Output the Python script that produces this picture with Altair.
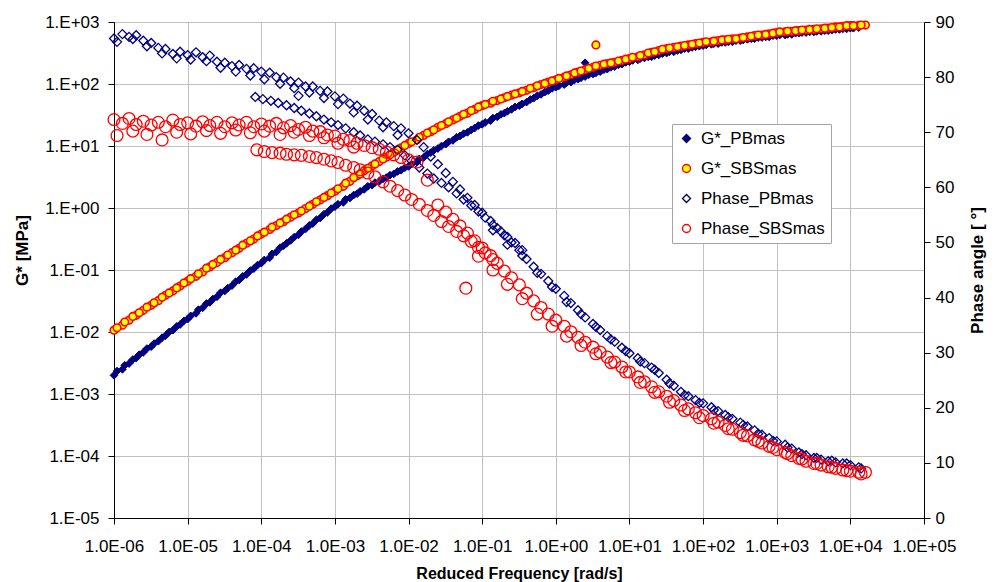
import altair as alt
import pandas as pd

SERIES = ["G*_PBmas", "G*_SBSmas", "Phase_PBmas", "Phase_SBSmas"]

X_TICKS = [1e-6, 1e-5, 1e-4, 1e-3, 1e-2, 1e-1, 1e0, 1e1, 1e2, 1e3, 1e4, 1e5]
G_TICKS = [1e-5, 1e-4, 1e-3, 1e-2, 1e-1, 1e0, 1e1, 1e2, 1e3]
PHASE_TICKS = [0, 10, 20, 30, 40, 50, 60, 70, 80, 90]

# ---------------- G*_PBmas (MPa) ----------------
pb_g_freq = [
    # first set of shifted measurements
    1.0e-6, 1.3e-6, 1.6e-6, 2.0e-6, 2.5e-6, 3.2e-6, 4.0e-6, 5.0e-6, 6.3e-6, 7.9e-6,
    1.0e-5, 1.3e-5, 1.6e-5, 2.0e-5, 2.5e-5, 3.2e-5, 4.0e-5, 5.0e-5, 6.3e-5, 7.9e-5,
    1.0e-4, 1.3e-4, 1.6e-4, 2.0e-4, 2.5e-4, 3.2e-4, 4.0e-4, 5.0e-4, 6.3e-4, 7.9e-4,
    1.0e-3, 1.3e-3, 1.6e-3, 2.0e-3, 2.5e-3, 3.2e-3, 4.0e-3, 5.0e-3, 6.3e-3, 7.9e-3,
    1.0e-2, 1.3e-2, 1.6e-2, 2.0e-2, 2.5e-2, 3.2e-2, 4.0e-2, 5.0e-2, 6.3e-2, 7.9e-2,
    0.10, 0.13, 0.16, 0.20, 0.25, 0.32, 0.40, 0.50, 0.63, 0.79,
    1.0, 1.3, 1.6, 2.0, 2.5, 3.2, 4.0, 5.0, 6.3, 7.9,
    10, 13, 16, 20, 25, 32, 40, 50, 63, 79,
    100, 130, 160, 200, 250, 320, 400, 500, 630, 790,
    1000, 1300, 1600, 2000, 2500, 3200, 4000, 5000, 6300, 7900,
    10000, 13000,
    # second set of shifted measurements
    1.1e-6, 1.4e-6, 1.8e-6, 2.2e-6, 2.8e-6, 3.5e-6, 4.5e-6, 5.6e-6, 7.1e-6, 8.9e-6,
    1.1e-5, 1.4e-5, 1.8e-5, 2.2e-5, 2.8e-5, 3.5e-5, 4.5e-5, 5.6e-5, 7.1e-5, 8.9e-5,
    1.1e-4, 1.4e-4, 1.8e-4, 2.2e-4, 2.8e-4, 3.5e-4, 4.5e-4, 5.6e-4, 7.1e-4, 8.9e-4,
    1.1e-3, 1.4e-3, 1.8e-3, 2.2e-3, 2.8e-3, 3.5e-3, 4.5e-3, 5.6e-3, 7.1e-3, 8.9e-3,
    1.1e-2, 1.4e-2, 1.8e-2, 2.2e-2, 2.8e-2, 3.5e-2, 4.5e-2, 5.6e-2, 7.1e-2, 8.9e-2,
    0.11, 0.14, 0.18, 0.22, 0.28, 0.35, 0.45, 0.56, 0.71, 0.89,
    1.1, 1.4, 1.8, 2.2, 2.8, 3.5, 4.5, 5.6, 7.1, 8.9,
    11, 14, 18, 22, 28, 35, 45, 56, 71, 89,
    110, 140, 180, 220, 280, 350, 450, 560, 710, 890,
    1100, 1400, 1800, 2200, 2800, 3500, 4500, 5600, 7100, 8900,
    11000,
    # stray point
    2.5,
]
pb_g = [
    2.0e-3, 2.5e-3, 3.1e-3, 3.8e-3, 4.7e-3, 5.8e-3, 7.1e-3, 8.7e-3, 1.07e-2, 1.32e-2,
    1.62e-2, 2.0e-2, 2.45e-2, 3.0e-2, 3.7e-2, 4.6e-2, 5.6e-2, 6.9e-2, 8.5e-2, 0.105,
    0.129, 0.158, 0.195, 0.245, 0.30, 0.37, 0.46, 0.56, 0.69, 0.85,
    1.05, 1.23, 1.45, 1.70, 2.0, 2.34, 2.69, 3.09, 3.55, 4.07,
    4.68, 5.5, 6.5, 7.8, 9.1, 10.7, 12.3, 14.5, 16.6, 19.5,
    22.4, 25.7, 29.5, 33.9, 38.9, 44.7, 51, 59, 68, 78,
    89, 98, 107, 120, 132, 145, 158, 174, 191, 209,
    229, 245, 263, 275, 295, 316, 331, 355, 372, 398,
    417, 437, 447, 468, 479, 501, 525, 537, 562, 575,
    603, 617, 631, 661, 676, 692, 708, 724, 759, 776,
    794, 813,
    2.34e-3, 2.9e-3, 3.6e-3, 4.3e-3, 5.4e-3, 6.5e-3, 8.1e-3, 1.0e-2, 1.23e-2, 1.51e-2,
    1.82e-2, 2.29e-2, 2.88e-2, 3.4e-2, 4.3e-2, 5.1e-2, 6.5e-2, 7.9e-2, 9.8e-2, 0.120,
    0.145, 0.182, 0.229, 0.269, 0.339, 0.417, 0.525, 0.646, 0.794, 0.977,
    1.15, 1.38, 1.62, 1.86, 2.24, 2.57, 2.95, 3.39, 3.89, 4.47,
    5.1, 6.2, 7.4, 8.5, 10.0, 11.7, 13.8, 15.8, 18.2, 21.4,
    24.0, 28.2, 32.4, 36.3, 42.7, 47.9, 56.2, 64.6, 74.1, 85.1,
    93.3, 105, 117, 126, 141, 151, 170, 186, 204, 224,
    240, 257, 275, 288, 309, 331, 347, 372, 389, 407,
    427, 447, 468, 479, 501, 513, 537, 562, 575, 603,
    617, 631, 661, 676, 692, 708, 724, 741, 759, 776,
    794,
    220,
]

# ---------------- G*_SBSmas (MPa) ----------------
sbs_g_freq = [
    1.0e-6, 1.3e-6, 1.6e-6, 2.0e-6, 2.5e-6, 3.2e-6, 4.0e-6, 5.0e-6, 6.3e-6, 7.9e-6,
    1.0e-5, 1.3e-5, 1.6e-5, 2.0e-5, 2.5e-5, 3.2e-5, 4.0e-5, 5.0e-5, 6.3e-5, 7.9e-5,
    1.0e-4, 1.3e-4, 1.6e-4, 2.0e-4, 2.5e-4, 3.2e-4, 4.0e-4, 5.0e-4, 6.3e-4, 7.9e-4,
    1.0e-3, 1.3e-3, 1.6e-3, 2.0e-3, 2.5e-3, 3.2e-3, 4.0e-3, 5.0e-3, 6.3e-3, 7.9e-3,
    1.0e-2, 1.3e-2, 1.6e-2, 2.0e-2, 2.5e-2, 3.2e-2, 4.0e-2, 5.0e-2, 6.3e-2, 7.9e-2,
    0.10, 0.13, 0.16, 0.20, 0.25, 0.32, 0.40, 0.50, 0.63, 0.79,
    1.0, 1.3, 1.6, 2.0, 2.5, 3.2, 4.0, 5.0, 6.3, 7.9,
    10, 13, 16, 20, 25, 32, 40, 50, 63, 79,
    100, 130, 160, 200, 250, 320, 400, 500, 630, 790,
    1000, 1300, 1600, 2000, 2500, 3200, 4000, 5000, 6300, 7900,
    10000, 13000, 16000,
    1.1e-6, 1.4e-6, 1.8e-6, 2.2e-6, 2.8e-6, 3.5e-6, 4.5e-6, 5.6e-6, 7.1e-6, 8.9e-6,
    1.1e-5, 1.4e-5, 1.8e-5, 2.2e-5, 2.8e-5, 3.5e-5, 4.5e-5, 5.6e-5, 7.1e-5, 8.9e-5,
    1.1e-4, 1.4e-4, 1.8e-4, 2.2e-4, 2.8e-4, 3.5e-4, 4.5e-4, 5.6e-4, 7.1e-4, 8.9e-4,
    1.1e-3, 1.4e-3, 1.8e-3, 2.2e-3, 2.8e-3, 3.5e-3, 4.5e-3, 5.6e-3, 7.1e-3, 8.9e-3,
    1.1e-2, 1.4e-2, 1.8e-2, 2.2e-2, 2.8e-2, 3.5e-2, 4.5e-2, 5.6e-2, 7.1e-2, 8.9e-2,
    0.11, 0.14, 0.18, 0.22, 0.28, 0.35, 0.45, 0.56, 0.71, 0.89,
    1.1, 1.4, 1.8, 2.2, 2.8, 3.5, 4.5, 5.6, 7.1, 8.9,
    11, 14, 18, 22, 28, 35, 45, 56, 71, 89,
    110, 140, 180, 220, 280, 350, 450, 560, 710, 890,
    1100, 1400, 1800, 2200, 2800, 3500, 4500, 5600, 7100, 8900,
    11000, 14000,
    3.5,
]
sbs_g = [
    1.07e-2, 1.29e-2, 1.55e-2, 1.86e-2, 2.24e-2, 2.69e-2, 3.2e-2, 3.9e-2, 4.6e-2, 5.5e-2,
    6.6e-2, 7.9e-2, 9.3e-2, 0.112, 0.132, 0.158, 0.19, 0.224, 0.27, 0.316,
    0.38, 0.45, 0.52, 0.60, 0.71, 0.83, 0.98, 1.15, 1.35, 1.58,
    1.86, 2.24, 2.69, 3.3, 4.0, 4.8, 5.6, 6.6, 7.9, 9.3,
    11.0, 12.6, 14.8, 17.0, 20.0, 22.9, 26.3, 30.2, 33.9, 38.9,
    44.7, 49, 54, 60, 66, 72, 79, 87, 98, 107,
    117, 129, 141, 155, 170, 186, 200, 214, 224, 240,
    257, 275, 295, 324, 347, 372, 389, 407, 427, 447,
    468, 479, 501, 513, 537, 550, 575, 603, 617, 646,
    676, 692, 708, 724, 741, 759, 776, 794, 832, 851,
    871, 881, 891,
    1.17e-2, 1.45e-2, 1.78e-2, 2.04e-2, 2.51e-2, 2.95e-2, 3.63e-2, 4.27e-2, 5.13e-2, 6.17e-2,
    7.24e-2, 8.7e-2, 0.107, 0.123, 0.148, 0.174, 0.209, 0.251, 0.295, 0.355,
    0.407, 0.49, 0.575, 0.66, 0.776, 0.891, 1.07, 1.26, 1.48, 1.74,
    2.04, 2.51, 3.09, 3.55, 4.37, 5.13, 6.17, 7.24, 8.7, 10.2,
    11.7, 13.8, 16.2, 18.2, 21.4, 24.5, 28.2, 32.4, 37.2, 42.7,
    46.8, 52.5, 57.5, 63.1, 69.2, 75.9, 85.1, 93.3, 102, 112,
    123, 135, 151, 162, 178, 195, 209, 219, 234, 251,
    269, 288, 316, 331, 363, 380, 398, 417, 437, 457,
    479, 490, 513, 525, 537, 562, 589, 617, 631, 661,
    692, 708, 724, 741, 759, 776, 794, 813, 832, 871,
    871, 891,
    427,
]

# ---------------- Phase_PBmas (deg) ----------------
pb_phase_freq = [
    # upper low-frequency strand
    1.0e-6, 1.3e-6, 1.6e-6, 2.0e-6, 2.5e-6, 3.2e-6, 4.0e-6, 5.0e-6, 6.3e-6, 7.9e-6,
    1.0e-5, 1.3e-5, 1.6e-5, 2.0e-5, 2.5e-5, 3.2e-5, 4.0e-5, 5.0e-5, 6.3e-5, 7.9e-5,
    1.0e-4, 1.3e-4, 1.6e-4, 2.0e-4, 2.5e-4, 3.2e-4, 4.0e-4, 5.0e-4, 6.3e-4, 7.9e-4,
    1.0e-3, 1.3e-3, 1.6e-3, 2.0e-3, 2.5e-3, 3.2e-3, 4.0e-3, 5.0e-3, 6.3e-3, 7.9e-3,
    1.0e-2, 1.3e-2, 1.6e-2, 2.0e-2, 2.5e-2, 3.2e-2, 4.0e-2, 5.0e-2, 6.3e-2, 7.9e-2,
    0.10,
    # second low-frequency strand
    1.1e-6, 1.8e-6, 2.8e-6, 4.5e-6, 7.1e-6, 1.1e-5, 1.8e-5, 2.8e-5, 4.5e-5, 7.1e-5,
    1.1e-4, 1.8e-4, 2.8e-4, 4.5e-4, 7.1e-4, 1.1e-3, 1.8e-3, 2.8e-3, 4.5e-3, 7.1e-3,
    # lower branch
    8.3e-5, 1.05e-4, 1.35e-4, 1.7e-4, 2.2e-4, 2.8e-4, 3.5e-4, 4.5e-4, 5.6e-4, 7.1e-4,
    8.9e-4, 1.1e-3, 1.4e-3, 1.8e-3, 2.2e-3, 2.8e-3, 3.5e-3, 4.5e-3, 5.6e-3, 7.1e-3,
    8.9e-3, 1.1e-2, 1.4e-2, 1.8e-2, 2.2e-2, 2.8e-2, 3.5e-2, 4.5e-2, 5.6e-2, 7.1e-2,
    8.9e-2, 0.11, 0.14, 0.18, 0.22, 0.28, 0.35,
    # main high-frequency strand
    0.13, 0.16, 0.20, 0.25, 0.32, 0.40, 0.50, 0.63, 0.79,
    1.0, 1.3, 1.6, 2.0, 2.5, 3.2, 4.0, 5.0, 6.3, 7.9,
    10, 13, 16, 20, 25, 32, 40, 50, 63, 79,
    100, 130, 160, 200, 250, 320, 400, 500, 630, 790,
    1000, 1300, 1600, 2000, 2500, 3200, 4000, 5000, 6300, 7900,
    10000, 13000,
    # second high-frequency strand
    0.14, 0.22, 0.35, 0.56, 0.89, 1.4, 2.2, 3.5, 5.6, 8.9,
    14, 22, 35, 56, 89, 140, 220, 350, 560, 890,
    1400, 2200, 3500, 5600, 8900, 14000,
    # stray point
    3.2e-4,
]
pb_phase = [
    87.0, 87.8, 87.3, 87.6, 86.6, 86.2, 85.3, 85.1, 84.2, 84.6,
    84.0, 84.5, 83.6, 83.9, 82.8, 82.6, 82.0, 82.2, 81.5, 81.6,
    81.0, 80.8, 80.0, 79.9, 79.2, 79.0, 78.3, 78.3, 77.5, 77.4,
    76.5, 76.1, 75.2, 74.8, 73.9, 73.3, 72.1, 71.8, 71.1, 70.7,
    69.8, 68.6, 67.3, 65.6, 64.2, 62.6, 61.0, 59.6, 58.1, 56.8,
    55.4,
    86.4, 86.9, 85.6, 84.3, 83.4, 83.2, 82.9, 81.7, 81.0, 80.3,
    79.6, 78.8, 78.0, 77.2, 76.2, 75.1, 73.6, 72.3, 70.9, 69.5,
    76.4, 76.0, 75.7, 75.3, 74.9, 74.4, 73.9, 73.4, 72.9, 72.3,
    71.8, 71.3, 70.7, 70.0, 69.4, 68.7, 68.3, 67.8, 67.3, 66.8,
    65.8, 64.8, 63.6, 62.5, 61.6, 60.8, 60.0, 58.9, 57.8, 56.7,
    55.6, 54.5, 53.2, 52.0, 51.0, 49.9, 48.6,
    53.9, 52.6, 51.3, 50.0, 48.6, 47.0, 45.6, 44.3, 43.0,
    41.6, 40.3, 39.0, 37.7, 36.4, 35.2, 34.1, 33.0, 32.0, 30.9,
    29.9, 29.0, 28.1, 27.3, 26.3, 25.1, 24.0, 22.9, 22.1, 21.4,
    20.8, 20.1, 19.4, 18.7, 18.0, 17.3, 16.6, 15.9, 15.1, 14.5,
    13.9, 13.3, 12.6, 11.9, 11.4, 10.9, 10.6, 10.3, 10.1, 9.9,
    9.6, 9.2,
    52.2, 49.6, 47.6, 44.5, 41.9, 39.2, 37.0, 34.7, 32.4, 30.3,
    28.4, 26.9, 24.4, 22.3, 20.9, 19.6, 18.3, 16.9, 15.3, 14.0,
    12.8, 11.6, 10.9, 10.4, 9.9, 9.0,
    76.6,
]

# ---------------- Phase_SBSmas (deg) ----------------
sbs_phase_freq = [
    # upper low-frequency strand
    1.0e-6, 1.3e-6, 1.6e-6, 2.0e-6, 2.5e-6, 3.2e-6, 4.0e-6, 5.0e-6, 6.3e-6, 7.9e-6,
    1.0e-5, 1.3e-5, 1.6e-5, 2.0e-5, 2.5e-5, 3.2e-5, 4.0e-5, 5.0e-5, 6.3e-5, 7.9e-5,
    1.0e-4, 1.3e-4, 1.6e-4, 2.0e-4, 2.5e-4, 3.2e-4, 4.0e-4, 5.0e-4, 6.3e-4, 7.9e-4,
    1.0e-3, 1.3e-3, 1.6e-3, 2.0e-3, 2.5e-3, 3.2e-3, 4.0e-3, 5.0e-3, 6.3e-3, 7.9e-3,
    1.0e-2, 1.3e-2, 1.8e-2,
    # second low-frequency strand
    1.1e-6, 1.8e-6, 2.8e-6, 4.5e-6, 7.1e-6, 1.1e-5, 1.8e-5, 2.8e-5, 4.5e-5, 7.1e-5,
    1.1e-4, 1.8e-4, 2.8e-4, 4.5e-4, 7.1e-4, 1.1e-3, 1.8e-3,
    # lower branch
    8.7e-5, 1.1e-4, 1.4e-4, 1.8e-4, 2.2e-4, 2.8e-4, 3.5e-4, 4.5e-4, 5.6e-4, 7.1e-4,
    8.9e-4, 1.1e-3, 1.4e-3, 1.8e-3, 2.2e-3, 2.8e-3, 3.5e-3, 4.5e-3, 5.6e-3, 7.1e-3,
    8.9e-3, 1.1e-2, 1.4e-2, 1.8e-2, 2.2e-2, 2.8e-2, 3.5e-2, 4.5e-2, 5.6e-2, 7.1e-2,
    8.9e-2, 0.11, 0.14,
    # main high-frequency strand
    2.5e-2, 3.2e-2, 4.0e-2, 5.0e-2, 6.3e-2, 7.9e-2,
    0.10, 0.13, 0.16, 0.20, 0.25, 0.32, 0.40, 0.50, 0.63, 0.79,
    1.0, 1.3, 1.6, 2.0, 2.5, 3.2, 4.0, 5.0, 6.3, 7.9,
    10, 13, 16, 20, 25, 32, 40, 50, 63, 79,
    100, 130, 160, 200, 250, 320, 400, 500, 630, 790,
    1000, 1300, 1600, 2000, 2500, 3200, 4000, 5000, 6300, 7900,
    10000, 13000, 16000,
    # second high-frequency strand
    8.9e-2, 0.14, 0.22, 0.35, 0.56, 0.89, 1.4, 2.2, 3.5, 5.6,
    8.9, 14, 22, 35, 56, 89, 140, 220, 350, 560,
    890, 1400, 2200, 3500, 5600, 8900, 14000,
    # stray point
    6.0e-2,
]
sbs_phase = [
    72.3, 71.6, 72.5, 71.4, 72.0, 71.3, 71.8, 71.0, 72.2, 71.4,
    71.7, 71.1, 71.9, 71.2, 71.8, 71.0, 71.7, 71.3, 71.8, 71.0,
    71.5, 71.1, 71.6, 70.8, 71.2, 70.5, 70.9, 70.2, 70.1, 69.5,
    69.3, 68.7, 68.5, 68.0, 67.6, 67.2, 66.9, 66.4, 65.9, 65.4,
    65.0, 64.6, 61.3,
    69.4, 70.2, 69.6, 68.6, 70.0, 69.7, 70.3, 69.8, 70.4, 69.9,
    70.2, 69.6, 70.0, 69.4, 69.0, 68.0, 67.3,
    66.8, 66.5, 66.3, 66.2, 66.0, 65.9, 65.8, 65.6, 65.4, 65.1,
    64.8, 64.5, 64.0, 63.6, 63.2, 62.6, 61.9, 61.0, 60.2, 59.4,
    58.6, 57.8, 56.9, 55.8, 54.9, 53.8, 52.9, 52.0, 51.2, 50.2,
    49.1, 48.1, 46.9,
    56.8, 55.5, 54.2, 53.0, 51.7, 50.3,
    49.0, 47.6, 46.2, 44.8, 43.6, 42.3, 40.8, 39.4, 38.2, 37.0,
    35.9, 34.8, 33.8, 32.8, 31.9, 31.0, 30.1, 29.2, 28.3, 27.4,
    26.5, 25.6, 24.7, 23.8, 22.9, 22.1, 21.3, 20.5, 19.8, 19.1,
    18.6, 18.0, 17.4, 16.8, 16.1, 15.5, 14.9, 14.2, 13.6, 13.0,
    12.4, 11.9, 11.3, 10.8, 10.3, 9.9, 9.6, 9.3, 9.0, 8.7,
    8.5, 8.3, 8.3,
    47.5, 45.0, 42.4, 39.8, 37.0, 34.8, 33.0, 31.3, 29.8, 28.2,
    26.5, 24.6, 22.8, 21.0, 19.5, 18.2, 17.2, 16.2, 15.0, 13.9,
    12.8, 11.7, 10.7, 9.9, 9.2, 8.6, 8.0,
    41.7,
]


def frame(freq, vals, name):
    assert len(freq) == len(vals), (name, len(freq), len(vals))
    return pd.DataFrame({"freq": freq, "value": vals, "series": name})


df_gpb = frame(pb_g_freq, pb_g, SERIES[0])
df_gsbs = frame(sbs_g_freq, sbs_g, SERIES[1])
df_ppb = frame(pb_phase_freq, pb_phase, SERIES[2])
df_psbs = frame(sbs_phase_freq, sbs_phase, SERIES[3])

FONT = "Liberation Sans"

legend = alt.Legend(
    title=None, orient="none", legendX=558, legendY=102, direction="vertical",
    labelFontSize=17, labelFont=FONT, labelColor="black", labelOffset=6,
    symbolSize=64, symbolStrokeWidth=1.4, rowPadding=12, padding=6,
    strokeColor="#A6A6A6", fillColor="white",
)

shape_enc = alt.Shape("series:N", scale=alt.Scale(domain=SERIES, range=["diamond", "circle", "diamond", "circle"]), legend=legend)
fill_enc = alt.Fill("series:N", scale=alt.Scale(domain=SERIES, range=["#000080", "#FFFF00", "transparent", "transparent"]), legend=legend)
stroke_enc = alt.Stroke("series:N", scale=alt.Scale(domain=SERIES, range=["#000080", "#FF0000", "#000080", "#FF0000"]), legend=legend)

x_label = ("'1.0E' + (datum.value < 1 ? '-' : '+') + "
           "(abs(round(log(datum.value)/LN10)) < 10 ? '0' : '') + abs(round(log(datum.value)/LN10))")
g_label = "'1.E' + (datum.value < 1 ? '-' : '+') + '0' + abs(round(log(datum.value)/LN10))"

x_enc = alt.X(
    "freq:Q",
    scale=alt.Scale(type="log", domain=[1e-6, 1e5], nice=False),
    axis=alt.Axis(
        values=X_TICKS, labelExpr=x_label, title="Reduced Frequency [rad/s]",
        grid=True, gridColor="#C0C0C0", gridWidth=1,
        domainColor="black", tickColor="black", tickSize=6,
        labelFont=FONT, labelFontSize=17, labelColor="black", labelPadding=14,
        labelOverlap=False, labelFlush=False,
        titleFont=FONT, titleFontSize=16, titleFontWeight="bold", titleColor="black",
        titleY=55, titleBaseline="middle",
    ),
)

y_g = alt.Y(
    "value:Q",
    scale=alt.Scale(type="log", domain=[1e-5, 1e3], nice=False),
    axis=alt.Axis(
        orient="left", values=G_TICKS, labelExpr=g_label, title="G* [MPa]",
        grid=True, gridColor="#C0C0C0", gridWidth=1,
        domainColor="black", tickColor="black", tickSize=6,
        labelFont=FONT, labelFontSize=17, labelColor="black", labelPadding=9,
        labelOverlap=False, labelFlush=False,
        titleFont=FONT, titleFontSize=17, titleFontWeight="bold", titleColor="black",
        titleAngle=270, titleX=-92, titleY=228, titleAlign="center", titleBaseline="middle",
    ),
)

y_p = alt.Y(
    "value:Q",
    scale=alt.Scale(domain=[0, 90], nice=False),
    axis=alt.Axis(
        orient="right", values=PHASE_TICKS, title="Phase angle [ °]",
        grid=False, domainColor="black", tickColor="black", tickSize=6,
        labelFont=FONT, labelFontSize=17, labelColor="black", labelPadding=5,
        labelOverlap=False, labelFlush=False,
        titleFont=FONT, titleFontSize=17, titleFontWeight="bold", titleColor="black",
        titleAngle=270, titleX=53, titleY=248, titleAlign="center", titleBaseline="middle",
    ),
)


def points(df, y, size, sw):
    return alt.Chart(df).mark_point(
        filled=True, size=size, strokeWidth=sw, opacity=1
    ).encode(x=x_enc, y=y, shape=shape_enc, fill=fill_enc, stroke=stroke_enc)


g_layer = alt.layer(
    points(df_gpb, y_g, 60, 1.0),
    points(df_gsbs, y_g, 58, 1.6),
)
p_layer = alt.layer(
    points(df_ppb, y_p, 81, 1.3),
    points(df_psbs, y_p, 140, 1.3),
)

chart = (
    alt.layer(g_layer, p_layer)
    .resolve_scale(y="independent")
    .properties(
        width=810, height=496,
        padding={"left": 114, "top": 22, "right": 73, "bottom": 64},
        autosize=alt.AutoSizeParams(type="none"),
        background="white",
    )
    .configure_view(stroke="transparent")
    .configure(font=FONT)
)

chart.save("out.html", embed_options={"renderer": "svg", "actions": False})
